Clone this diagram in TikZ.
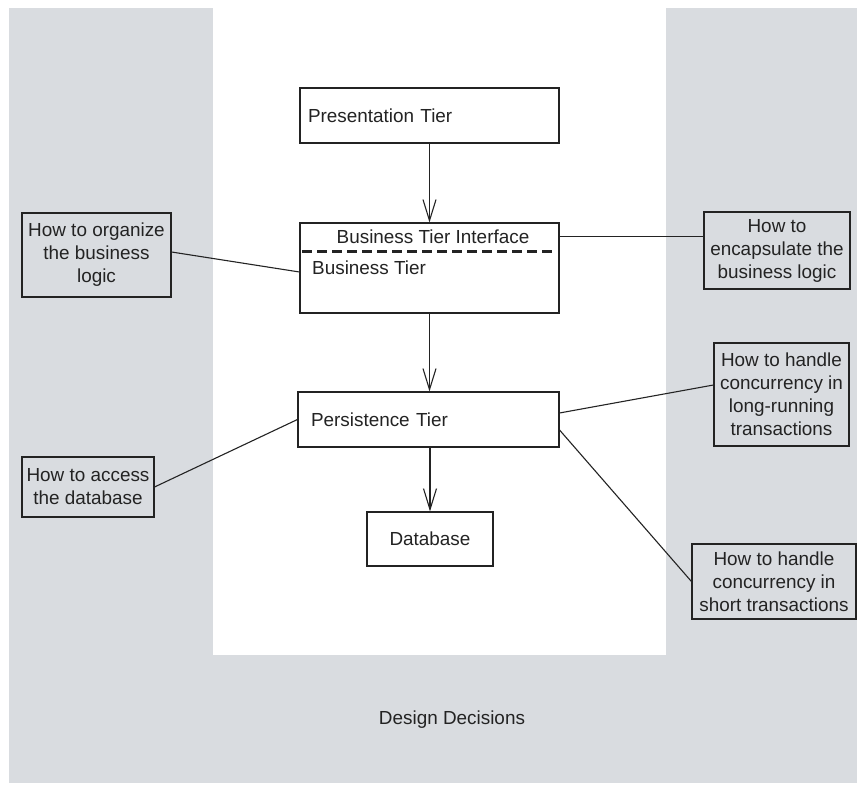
\documentclass[tikz,border=0pt]{standalone}
\usepackage{fontspec}
\setmainfont{Liberation Sans}
\usetikzlibrary{arrows.meta,calc}
\definecolor{bggray}{RGB}{217,220,224}
\definecolor{ink}{RGB}{35,35,35}
\begin{document}
\begin{tikzpicture}[x=1pt,y=-1pt,
  every node/.style={font=\fontsize{18.9}{23}\selectfont, text=ink},
  box/.style={draw=ink, line width=1.1pt, fill=white, inner sep=0pt},
  note/.style={draw=ink, line width=1.1pt, fill=bggray, inner sep=0pt, align=center},
  conn/.style={draw=ink, line width=1.1pt},
  arr/.style={conn, -{Straight Barb[length=21pt,width=13pt,line width=1.1pt]}},
  lbl/.style={inner sep=0pt}
]
\useasboundingbox (0,0) rectangle (857,791);
\fill[bggray] (9,8) rectangle (857,783);
\fill[white] (213,8) rectangle (666,655);

% main tiers
\node[box, minimum width=259pt, minimum height=55pt, text width=243pt, align=left] (pres) at (429.5,115.5) {Presentation Tier};
\node[box, minimum width=259pt, minimum height=90pt] (biz) at (429.5,268) {};
\node[lbl] (bti) at (433,237) {Business Tier Interface};
\node[lbl, anchor=west] (bt) at (312,268) {Business Tier};
\draw[ink, line width=2.4pt, dash pattern=on 10pt off 5pt] ($(biz.north west)+(3,29)$) -- ($(biz.north east)+(-3,29)$);
\node[box, minimum width=261pt, minimum height=55pt, text width=235pt, align=left] (pers) at (428.5,419.5) {Persistence Tier};
\node[box, minimum width=126pt, minimum height=54pt] (db) at (430,539) {Database};

% design decision notes
\node[note, minimum width=149pt, minimum height=84pt] (org) at (96.5,255) {How to organize\\the business\\logic};
\node[note, minimum width=146pt, minimum height=77pt] (enc) at (777,250.5) {How to\\encapsulate the\\business logic};
\node[note, minimum width=135pt, minimum height=103pt] (long) at (781.5,394.5) {How to handle\\concurrency in\\long-running\\transactions};
\node[note, minimum width=132pt, minimum height=60pt] (acc) at (88,487) {How to access\\the database};
\node[note, minimum width=164pt, minimum height=75pt] (short) at (774,581.5) {How to handle\\concurrency in\\short transactions};

\node[lbl] (dd) at (452,720) {Design Decisions};

% arrows
\draw[arr] (pres.south) -- (biz.north);
\draw[arr] (biz.south) -- (biz.south |- pers.north);
\draw[arr] (db.north |- pers.south) -- (db.north);

% connectors
\draw[conn] ($(org.east)+(0,-3)$) -- ($(biz.west)+(0,4)$);
\coordinate (bizE) at ($(biz.north east)+(0,14)$);
\draw[conn] (bizE) -- (bizE -| enc.west);
\draw[conn] (acc.east) -- (pers.west);
\draw[conn] ($(pers.east)+(0,-6.5)$) -- ($(long.west)+(0,-9.5)$);
\draw[conn] ($(pers.east)+(0,10.5)$) -- (short.west);
\end{tikzpicture}
\end{document}
